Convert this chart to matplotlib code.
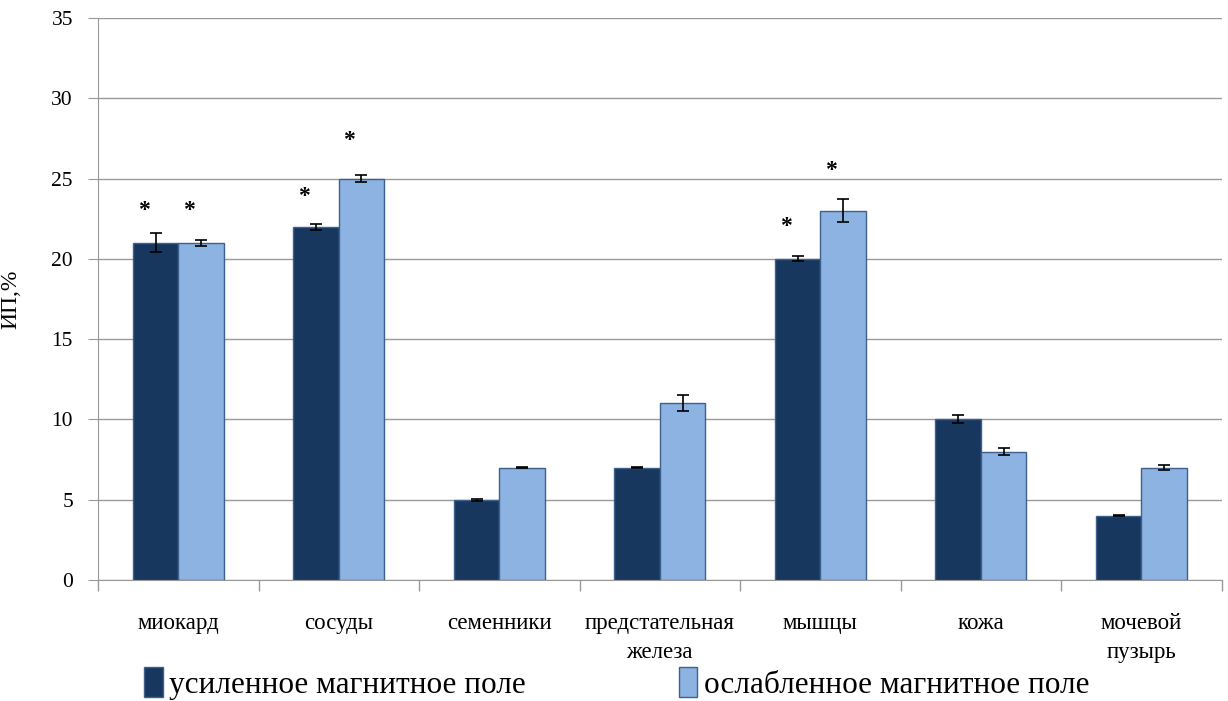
import matplotlib
matplotlib.use("Agg")
import matplotlib.pyplot as plt
import numpy as np

categories = ["миокард", "сосуды", "семенники", "предстательная\nжелеза",
              "мышцы", "кожа", "мочевой\nпузырь"]
series_names = ["усиленное магнитное поле", "ослабленное магнитное поле"]
strong = [21, 22, 5, 7, 20, 10, 4]
strong_err = [0.6, 0.2, 0.05, 0.05, 0.15, 0.25, 0.03]
weak = [21, 25, 7, 11, 23, 8, 7]
weak_err = [0.2, 0.2, 0.05, 0.5, 0.7, 0.2, 0.15]
# significance stars (y positions, None = no star)
strong_star = [23.0, 23.9, None, None, 22.0, None, None]
weak_star = [23.0, 27.4, None, None, 25.5, None, None]

plt.rcParams['font.family'] = ['Liberation Serif', 'DejaVu Serif']

fig = plt.figure(figsize=(12.28, 7.01), dpi=100)
ax = fig.add_axes([0.0798, 0.1726, 0.915, 0.8017])

x = np.arange(len(categories))
w = 0.283
dark = '#17375E'
light = '#8DB3E2'
edge = '#3E608C'

ax.bar(x - w/2, strong, w, color=dark, edgecolor=edge, linewidth=1, zorder=3,
       label=series_names[0])
ax.bar(x + w/2, weak, w, color=light, edgecolor=edge, linewidth=1, zorder=3,
       label=series_names[1])
ax.errorbar(x - w/2, strong, yerr=strong_err, fmt='none', ecolor='black',
            elinewidth=1.2, capsize=4, capthick=1.2, zorder=4)
ax.errorbar(x + w/2, weak, yerr=weak_err, fmt='none', ecolor='black',
            elinewidth=1.2, capsize=4, capthick=1.2, zorder=4)

off = 0.075
for i in range(len(categories)):
    if strong_star[i] is not None:
        ax.text(x[i] - w/2 - off, strong_star[i], '*', ha='center', va='center',
                fontsize=17, fontweight='bold', color='black')
    if weak_star[i] is not None:
        ax.text(x[i] + w/2 - off, weak_star[i], '*', ha='center', va='center',
                fontsize=17, fontweight='bold', color='black')

ax.set_xlim(-0.5, len(categories) - 0.5)
ax.set_ylim(0, 35)
ax.set_yticks(np.arange(0, 36, 5))
ax.yaxis.grid(True, color='#999999', linewidth=1, zorder=0)
ax.set_axisbelow(True)

ax.set_xticks(x)
ax.set_xticklabels(categories, fontsize=16.5, linespacing=1.45, va='top')
ax.set_xticks(np.arange(-0.5, len(categories) + 0.5, 1), minor=True)
ax.tick_params(axis='x', which='major', length=0, pad=24)
ax.tick_params(axis='x', which='minor', length=8, color='#999999', width=1)
ax.tick_params(axis='y', labelsize=15.5, length=7, color='#999999', pad=11)

for s in ['top', 'right']:
    ax.spines[s].set_visible(False)
for s in ['left', 'bottom']:
    ax.spines[s].set_color('#999999')

ax.set_ylabel('ИП,%', fontsize=17)
ax.yaxis.set_label_coords(-0.068, 0.5)

fig.legend(loc='center', bbox_to_anchor=(0.502, 0.025), ncol=2,
           frameon=False, fontsize=22.5, handlelength=0.6, handleheight=1.1,
           handletextpad=0.2, columnspacing=4.9)

fig.savefig('out.png', dpi=100)
